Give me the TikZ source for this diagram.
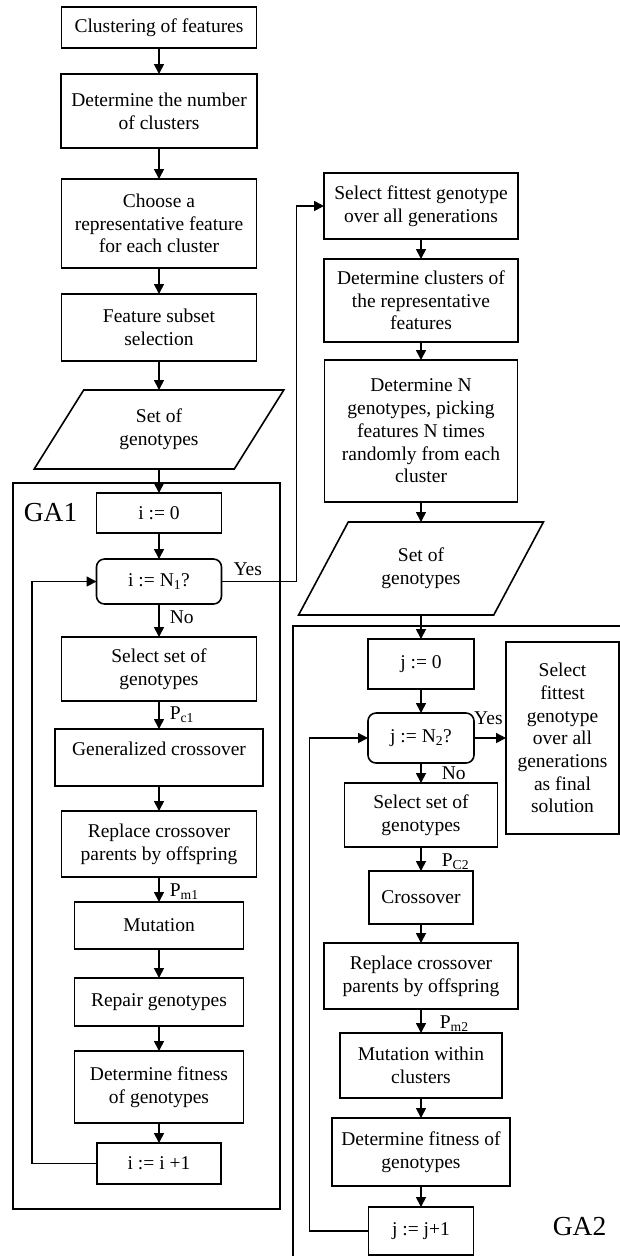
\documentclass[tikz,border=0pt]{standalone}
\usepackage{fontspec}
\setmainfont{Liberation Serif}
\usetikzlibrary{positioning,shapes.geometric,arrows.meta}

\begin{document}
\begin{tikzpicture}[
    x=1pt, y=-1pt,          % pixel units, y pointing down
    node distance=25pt,
    font=\fontsize{19.5}{22.7}\selectfont,
    line width=1.6pt,
    >={Triangle[length=10pt,width=10pt]},
    box/.style = {draw, rectangle, align=center, inner sep=2pt, outer sep=0pt},
    test/.style = {box, rounded corners=8pt},
    io/.style = {draw, trapezium, trapezium left angle=58, trapezium right angle=122,
                 trapezium stretches=true, align=center, inner sep=1pt, outer sep=0pt},
    lbl/.style = {inner sep=0pt}
  ]
    \useasboundingbox (0,0) rectangle (620,1256);
    \clip (0,0) rectangle (620,1256);

    % left column
    \node[box, minimum width=195pt, minimum height=41pt] (clust) at (159,27.5) {Clustering of features};
    \node[box, minimum width=196pt, minimum height=74pt, below=26pt of clust] (ncl) {Determine the number\\of clusters};
    \node[box, minimum width=195pt, minimum height=89pt, below=31pt of ncl] (repr) {Choose a\\representative feature\\for each cluster};
    \node[box, minimum width=195pt, minimum height=67pt, below=26pt of repr] (subset) {Feature subset\\selection};
    \node[io, minimum width=250pt, minimum height=79pt, below=29pt of subset] (geno1) {Set of\\genotypes};

    % GA1 loop
    \draw (13,483) rectangle (280,1209);
    \node[lbl, anchor=west] (ga1) at (23,513) {\fontsize{27.5}{30}\selectfont GA1};
    \node[box, minimum width=125pt, minimum height=40pt, below=24pt of geno1] (init1) {i := 0};
    \node[test, minimum width=125pt, minimum height=45pt, below=26pt of init1] (test1) {i := N\textsubscript{1}?};
    \node[box, minimum width=195pt, minimum height=64pt, below=33pt of test1] (sel1) {Select set of\\genotypes};
    \node[box, minimum width=208pt, minimum height=57pt, text depth=17pt, below=28pt of sel1] (cross1) {Generalized crossover};
    \node[box, minimum width=195pt, minimum height=66pt, below=25pt of cross1] (repl1) {Replace crossover\\parents by offspring};
    \node[box, minimum width=169pt, minimum height=47pt, below=25pt of repl1] (mut1) {Mutation};
    \node[box, minimum width=169pt, minimum height=48pt, below=29pt of mut1] (rep1) {Repair genotypes};
    \node[box, minimum width=169pt, minimum height=72pt, below=25pt of rep1] (fit1) {Determine fitness\\of genotypes};
    \node[box, minimum width=124pt, minimum height=41pt, below=20pt of fit1] (inc1) {i := i +1};

    % right column
    \node[box, minimum width=194pt, minimum height=66pt] (best) at (421,206) {Select fittest genotype\\over all generations};
    \node[box, minimum width=194pt, minimum height=83pt, below=20pt of best] (clus2) {Determine clusters of\\the representative\\features};
    \node[box, minimum width=193pt, minimum height=142pt, below=18pt of clus2] (pick) {Determine N\\genotypes, picking\\features N times\\randomly from each\\cluster};
    \node[io, trapezium left angle=57, trapezium right angle=123, minimum width=245pt, minimum height=93pt, below=20pt of pick] (geno2) {Set of\\genotypes};

    % GA2 loop
    \draw (293,1300) |- (660,626);
    \node[lbl, anchor=west] (ga2) at (552,1227) {\fontsize{27.5}{30}\selectfont GA2};
    \node[box, minimum width=106pt, minimum height=50pt, below=24pt of geno2] (init2) {j := 0};
    \node[test, minimum width=106pt, minimum height=50pt, below=24pt of init2] (test2) {j := N\textsubscript{2}?};
    \node[box, minimum width=113pt, minimum height=192pt, right=32pt of test2] (final) {Select\\fittest\\genotype\\over all\\generations\\as final\\solution};
    \node[box, minimum width=153pt, minimum height=64pt, below=20pt of test2] (sel2) {Select set of\\genotypes};
    \node[box, minimum width=104pt, minimum height=53pt, below=24pt of sel2] (cross2) {Crossover};
    \node[box, minimum width=194pt, minimum height=66pt, below=19pt of cross2] (repl2) {Replace crossover\\parents by offspring};
    \node[box, minimum width=162pt, minimum height=65pt, below=24pt of repl2] (mut2) {Mutation within\\clusters};
    \node[box, minimum width=178pt, minimum height=68pt, below=20pt of mut2] (fit2) {Determine fitness of\\genotypes};
    \node[box, minimum width=105pt, minimum height=48pt, below=21pt of fit2] (inc2) {j := j+1};

    % arrows, left
    \draw[->] (clust) -- (ncl);
    \draw[->] (ncl) -- (repr);
    \draw[->] (repr) -- (subset);
    \draw[->] (subset) -- (geno1);
    \draw[->] (geno1) -- (init1);
    \draw[->] (init1) -- (test1);
    \draw[->] (test1) -- node[right=10pt, lbl, pos=0.4] {No} (sel1);
    \draw[->] (sel1) -- node[right=10pt, lbl] {P\textsubscript{c1}} (cross1);
    \draw[->] (cross1) -- (repl1);
    \draw[->] (repl1) -- node[right=10pt, lbl, pos=0.6] {P\textsubscript{m1}} (mut1);
    \draw[->] (mut1) -- (rep1);
    \draw[->] (rep1) -- (fit1);
    \draw[->] (fit1) -- (inc1);
    \draw[->] (inc1.west) -- ++(-65,0) |- (test1.west);
    \draw[->] (test1.east) -- node[above=5pt, lbl, pos=0.35] {Yes} ++(75,0) |- (best.west);

    % arrows, right
    \draw[->] (best) -- (clus2);
    \draw[->] (clus2) -- (pick);
    \draw[->] (pick) -- (geno2);
    \draw[->] (geno2) -- (init2);
    \draw[->] (init2) -- (test2);
    \draw[->] (test2) -- node[above=13pt, lbl, pos=0.45] {Yes} (final);
    \draw[->] (test2) -- node[right=20pt, lbl] {No} (sel2);
    \draw[->] (sel2) -- node[right=20pt, lbl, pos=0.6] {P\textsubscript{C2}} (cross2);
    \draw[->] (cross2) -- (repl2);
    \draw[->] (repl2) -- node[right=18pt, lbl, pos=0.6] {P\textsubscript{m2}} (mut2);
    \draw[->] (mut2) -- (fit2);
    \draw[->] (fit2) -- (inc2);
    \draw[->] (inc2.west) -- ++(-59,0) |- (test2.west);
\end{tikzpicture}
\end{document}
